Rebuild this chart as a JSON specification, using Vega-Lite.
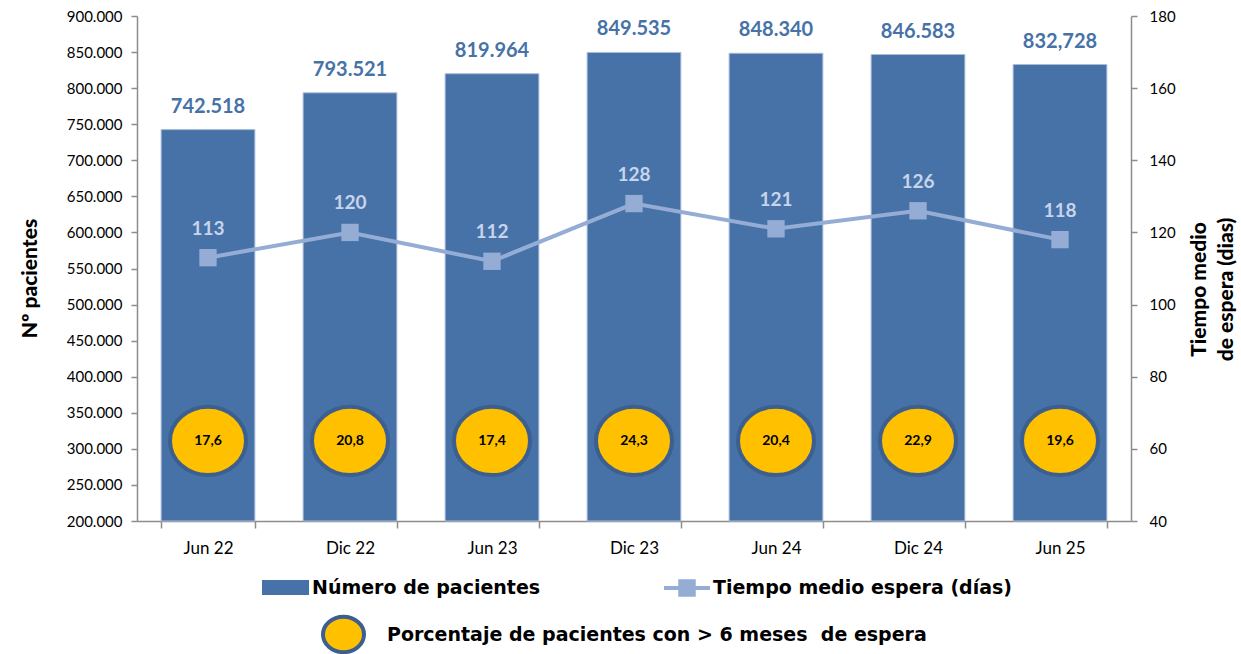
{
  "$schema": "https://vega.github.io/schema/vega-lite/v6.json",
  "width": 994,
  "height": 505,
  "autosize": {"type": "none"},
  "padding": {"left": 137, "top": 16, "right": 110, "bottom": 133},
  "config": {
    "view": {"stroke": null},
    "font": "Lato",
    "locale": {"number": {"decimal": ",", "thousands": ".", "grouping": [3], "currency": ["", " €"]}},
    "axis": {
      "domainColor": "#8c8c8c",
      "tickColor": "#8c8c8c",
      "domainWidth": 1.5,
      "tickWidth": 1.5,
      "tickSize": 6,
      "grid": false,
      "labelFont": "Lato",
      "labelColor": "#000000",
      "titleColor": "#000000"
    },
    "legend": {"padding": 0, "labelLimit": 800, "title": null}
  },
  "data": {
    "values": [
      {"periodo": "Jun 22", "pacientes": 742518, "pacLabel": "742.518", "tiempo": 113, "pctLabel": "17,6"},
      {"periodo": "Dic 22", "pacientes": 793521, "pacLabel": "793.521", "tiempo": 120, "pctLabel": "20,8"},
      {"periodo": "Jun 23", "pacientes": 819964, "pacLabel": "819.964", "tiempo": 112, "pctLabel": "17,4"},
      {"periodo": "Dic 23", "pacientes": 849535, "pacLabel": "849.535", "tiempo": 128, "pctLabel": "24,3"},
      {"periodo": "Jun 24", "pacientes": 848340, "pacLabel": "848.340", "tiempo": 121, "pctLabel": "20,4"},
      {"periodo": "Dic 24", "pacientes": 846583, "pacLabel": "846.583", "tiempo": 126, "pctLabel": "22,9"},
      {"periodo": "Jun 25", "pacientes": 832728, "pacLabel": "832,728", "tiempo": 118, "pctLabel": "19,6"}
    ]
  },
  "encoding": {
    "x": {
      "field": "periodo",
      "type": "nominal",
      "sort": null,
      "scale": {"paddingInner": 0.34, "paddingOuter": 0.17},
      "axis": {
        "title": null,
        "labelAngle": 0,
        "labelFontSize": 17,
        "labelPadding": 12,
        "tickBand": "extent",
        "tickSize": 7
      }
    }
  },
  "layer": [
    {
      "encoding": {
        "y": {
          "field": "pacientes",
          "type": "quantitative",
          "scale": {"domain": [200000, 900000], "zero": false, "nice": false},
          "axis": {
            "title": "Nº pacientes",
            "titleFont": "Lato",
            "titleFontSize": 21,
            "titleFontWeight": 900,
            "titlePadding": 26,
            "titleY": 262,
            "values": [200000, 250000, 300000, 350000, 400000, 450000, 500000, 550000, 600000, 650000, 700000, 750000, 800000, 850000, 900000],
            "format": ",d",
            "labelFontSize": 15,
            "labelPadding": 9
          }
        }
      },
      "layer": [
        {
          "mark": {"type": "bar", "stroke": "#a9bcd8", "strokeWidth": 1},
          "encoding": {
            "y2": {"datum": 200000},
            "color": {
              "datum": "Número de pacientes",
              "scale": {"range": ["#4672a7"]},
              "legend": {
                "orient": "none",
                "legendX": 125,
                "legendY": 548,
                "symbolType": "M-1,-0.32H1V0.32H-1Z",
                "symbolSize": 2209,
                "symbolStrokeWidth": 0,
                "labelFont": "DejaVu Sans",
                "labelFontSize": 19,
                "labelFontWeight": "bold",
                "labelColor": "#000000",
                "labelOffset": 3
              }
            }
          }
        },
        {
          "mark": {"type": "text", "baseline": "middle", "dy": -23, "fontSize": 20, "fontWeight": "bold", "font": "Lato", "color": "#4672a7"},
          "encoding": {"text": {"field": "pacLabel"}}
        },
        {
          "mark": {"type": "point", "filled": true, "opacity": 1, "fill": "#ffc000", "strokeWidth": 4, "size": 5776, "shape": "M-1,0A1,0.9,0,1,1,1,0A1,0.9,0,1,1,-1,0Z"},
          "encoding": {
            "y": {"datum": 311000},
            "stroke": {
              "datum": "Porcentaje de pacientes con > 6 meses\u00a0 de espera",
              "scale": {"range": ["#3c5f8f"]},
              "legend": {
                "orient": "none",
                "legendX": 184,
                "legendY": 596,
                "symbolType": "M-1,0A1,0.86,0,1,1,1,0A1,0.86,0,1,1,-1,0Z",
                "symbolSize": 1681,
                "symbolFillColor": "#ffc000",
                "symbolStrokeWidth": 4,
                "symbolOpacity": 1,
                "labelFont": "DejaVu Sans",
                "labelFontSize": 19,
                "labelFontWeight": "bold",
                "labelColor": "#000000",
                "labelOffset": 21,
                "encode": {"symbols": {"update": {"strokeWidth": {"value": 4}, "fill": {"value": "#ffc000"}, "opacity": {"value": 1}}}}
              }
            }
          }
        },
        {
          "mark": {"type": "text", "baseline": "middle", "fontSize": 14, "fontWeight": "bold", "font": "Lato", "color": "#000000"},
          "encoding": {"y": {"datum": 311000}, "text": {"field": "pctLabel"}}
        }
      ]
    },
    {
      "encoding": {
        "y": {
          "field": "tiempo",
          "type": "quantitative",
          "scale": {"domain": [40, 180], "zero": false, "nice": false},
          "axis": {
            "orient": "right",
            "title": ["Tiempo medio", "de espera (dias)"],
            "titleAngle": 270,
            "titleFont": "Lato",
            "titleFontSize": 21,
            "titleFontWeight": 900,
            "titleLineHeight": 27,
            "titlePadding": 7,
            "titleY": 273,
            "values": [40, 60, 80, 100, 120, 140, 160, 180],
            "labelFontSize": 15,
            "labelPadding": 12
          }
        }
      },
      "layer": [
        {
          "mark": {"type": "line", "color": "#95add5", "strokeWidth": 4},
          "encoding": {}
        },
        {
          "mark": {"type": "point", "shape": "square", "filled": true, "opacity": 1, "size": 300},
          "encoding": {
            "fill": {
              "datum": "Tiempo medio espera (días)",
              "scale": {"range": ["#95add5"]},
              "legend": {
                "orient": "none",
                "legendX": 527,
                "legendY": 549,
                "symbolType": "M-1,-0.09H-0.38V-0.38H0.38V-0.09H1V0.09H0.38V0.38H-0.38V0.09H-1Z",
                "symbolSize": 2116,
                "symbolStrokeWidth": 0,
                "symbolOpacity": 1,
                "labelFont": "DejaVu Sans",
                "labelFontSize": 19,
                "labelFontWeight": "bold",
                "labelColor": "#000000",
                "labelOffset": 3
              }
            }
          }
        },
        {
          "mark": {"type": "text", "baseline": "middle", "dy": -29, "fontSize": 19, "fontWeight": "bold", "font": "Lato", "color": "#c6d4ec"},
          "encoding": {"text": {"field": "tiempo", "type": "quantitative"}}
        }
      ]
    }
  ],
  "resolve": {"scale": {"y": "independent"}, "axis": {"y": "independent"}}
}
